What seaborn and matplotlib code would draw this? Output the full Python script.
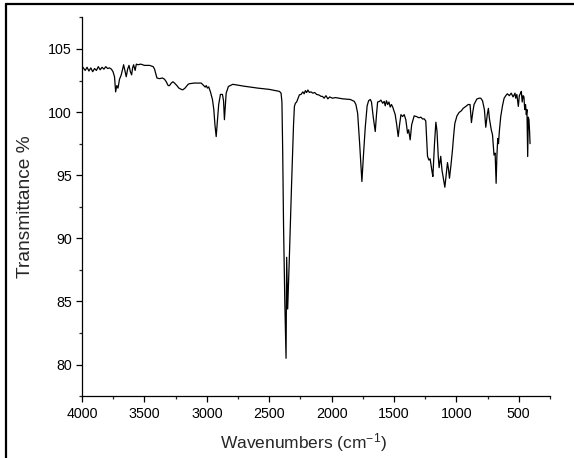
import numpy as np
import pandas as pd
import matplotlib
matplotlib.use('Agg')
import matplotlib.pyplot as plt
from matplotlib.lines import Line2D
from matplotlib.ticker import MultipleLocator
import seaborn as sns

# IR spectrum
wavenumber = [4000, 3990, 3975, 3960, 3945, 3930, 3915, 3900, 3885, 3870, 3855, 3840, 3825, 3810,
              3795, 3780, 3765, 3752, 3740, 3731, 3722, 3712, 3700, 3686, 3667, 3657, 3646, 3635,
              3624, 3613, 3603, 3595, 3587, 3575, 3565, 3552, 3530, 3500, 3459, 3430, 3419, 3408,
              3400, 3380, 3355, 3339, 3325, 3310, 3299, 3285, 3272, 3259, 3240, 3224, 3200, 3192,
              3175, 3150, 3139, 3100, 3045, 3025, 3013, 3005, 2995, 2985, 2971, 2955, 2944, 2935,
              2925, 2915, 2905, 2891, 2875, 2866, 2859, 2852, 2845, 2827, 2792, 2700, 2592, 2500,
              2418, 2405, 2398, 2392, 2385, 2375, 2365, 2360, 2352, 2340, 2320, 2305, 2298, 2290,
              2280, 2258, 2245, 2230, 2220, 2210, 2200, 2190, 2178, 2165, 2150, 2135, 2120, 2100,
              2085, 2072, 2060, 2045, 2030, 2015, 1992, 1970, 1940, 1910, 1885, 1850, 1818, 1805,
              1791, 1775, 1757, 1745, 1730, 1715, 1703, 1690, 1680, 1666, 1650, 1640, 1631, 1615,
              1605, 1590, 1578, 1570, 1560, 1550, 1540, 1530, 1520, 1510, 1500, 1490, 1478, 1466,
              1455, 1444, 1431, 1418, 1405, 1391, 1382, 1370, 1358, 1338, 1320, 1300, 1284, 1270,
              1258, 1245, 1231, 1220, 1210, 1195, 1188, 1175, 1164, 1155, 1145, 1138, 1125, 1115,
              1100, 1092, 1080, 1071, 1063, 1055, 1043, 1031, 1020, 1012, 995, 978, 960, 945,
              924, 905, 890, 879, 868, 858, 836, 818, 804, 790, 775, 764, 752, 743,
              735, 720, 710, 698, 689, 681, 675, 668, 662, 655, 644, 630, 617, 600,
              591, 575, 560, 545, 530, 524, 515, 503, 495, 485, 479, 472, 465, 458,
              452, 445, 439, 434, 428, 423, 418, 413, 409]
transmittance = [103.62, 103.5, 103.3, 103.55, 103.25, 103.5, 103.2, 103.45, 103.3, 103.6, 103.35, 103.55, 103.4, 103.6,
                 103.45, 103.5, 103.4, 103.2, 102.8, 101.6, 102.1, 101.9, 102.6, 102.95, 103.75, 103.3, 102.8, 103.4,
                 103.7, 103.2, 102.95, 103.5, 103.75, 103.3, 103.8, 103.75, 103.8, 103.7, 103.7, 103.6, 103.4, 103.0,
                 102.7, 102.65, 102.7, 102.6, 102.4, 102.1, 102.1, 102.3, 102.4, 102.3, 102.1, 101.9, 101.78, 101.77,
                 101.9, 102.2, 102.25, 102.3, 102.3, 102.1, 101.98, 102.1, 101.9, 102.0, 101.6, 101.0, 100.2, 99.0,
                 98.06, 99.3, 100.6, 101.4, 101.4, 100.9, 99.4, 100.5, 101.5, 102.03, 102.2, 102.05, 101.9, 101.8,
                 101.64, 101.5, 100.8, 97.0, 91.0, 85.0, 80.5, 88.5, 84.4, 88.0, 94.5, 99.0, 100.45, 100.7,
                 100.8, 101.37, 101.4, 101.6, 101.45, 101.7, 101.55, 101.75, 101.56, 101.6, 101.5, 101.55, 101.4, 101.35,
                 101.25, 101.24, 101.1, 101.3, 101.05, 101.2, 101.1, 101.15, 101.1, 101.05, 101.03, 101.0, 100.85, 100.6,
                 99.9, 97.5, 94.5, 96.5, 98.8, 100.5, 100.9, 101.0, 100.8, 99.6, 98.46, 99.8, 100.8, 100.85,
                 100.95, 100.7, 100.85, 100.5, 100.9, 100.6, 100.8, 100.4, 100.6, 100.4, 100.1, 99.8, 99.0, 98.06,
                 99.0, 99.8, 99.65, 99.8, 99.4, 98.33, 98.6, 97.8, 99.0, 99.7, 99.65, 99.55, 99.6, 99.45,
                 99.47, 99.3, 96.5, 96.2, 96.3, 95.3, 94.9, 97.5, 99.2, 98.5, 96.5, 95.6, 96.5, 95.4,
                 94.5, 94.05, 95.2, 96.0, 95.5, 94.76, 95.8, 97.0, 98.3, 99.1, 99.7, 99.97, 100.1, 100.3,
                 100.45, 100.6, 100.6, 99.17, 100.0, 100.6, 101.03, 101.1, 101.1, 100.9, 100.2, 98.8, 99.8, 100.3,
                 99.5, 98.6, 98.2, 96.6, 96.75, 94.36, 96.5, 97.9, 97.5, 98.5, 99.65, 100.5, 101.1, 101.35,
                 101.45, 101.3, 101.5, 101.2, 101.5, 101.1, 101.4, 100.45, 101.3, 101.5, 101.64, 100.8, 101.3, 101.2,
                 100.2, 100.6, 99.8, 100.2, 96.48, 99.6, 99.4, 98.5, 97.5]

x_ticks = [4000, 3500, 3000, 2500, 2000, 1500, 1000, 500]
y_ticks = [80, 85, 90, 95, 100, 105]

df = pd.DataFrame({'Wavenumber': wavenumber, 'Transmittance': transmittance})

sns.set_style('ticks')
plt.rcParams['font.family'] = ['Liberation Sans', 'DejaVu Sans']
plt.rcParams['mathtext.fontset'] = 'custom'
plt.rcParams['mathtext.rm'] = 'Liberation Sans'
plt.rcParams['mathtext.it'] = 'Liberation Sans'

fig = plt.figure(figsize=(5.74, 4.58), dpi=100)
ax = fig.add_axes([0.143, 0.135, 0.815, 0.827])

sns.lineplot(data=df, x='Wavenumber', y='Transmittance', sort=False, estimator=None,
             color='black', linewidth=0.9, ax=ax)

ax.set_xlim(4000, 250)
ax.set_ylim(77.5, 107.5)
ax.set_xticks(x_ticks)
ax.set_yticks(y_ticks)
ax.xaxis.set_minor_locator(MultipleLocator(250))
ax.yaxis.set_minor_locator(MultipleLocator(2.5))
ax.tick_params(which='major', direction='out', length=4, width=0.9, labelsize=10.3, colors='black')
ax.tick_params(which='minor', direction='out', length=2.5, width=0.9)
ax.set_xlabel('Wavenumbers (cm$^{-1}$)', fontsize=12.5)
ax.set_ylabel('Transmittance %', fontsize=13.8)
ax.xaxis.set_label_coords(0.474, -0.093)
ax.yaxis.set_label_coords(-0.1026, 0.5)
sns.despine(ax=ax)
for s in ['left', 'bottom']:
    ax.spines[s].set_linewidth(0.9)
    ax.spines[s].set_color('black')

# frame lines of the cropped picture
fig.add_artist(Line2D([0.0113, 1.0], [0.9913, 0.9913], color='black', linewidth=1.6))
fig.add_artist(Line2D([0.0113, 0.0113], [0.0, 0.9913], color='black', linewidth=1.6))

fig.savefig('out.png', dpi=100)
